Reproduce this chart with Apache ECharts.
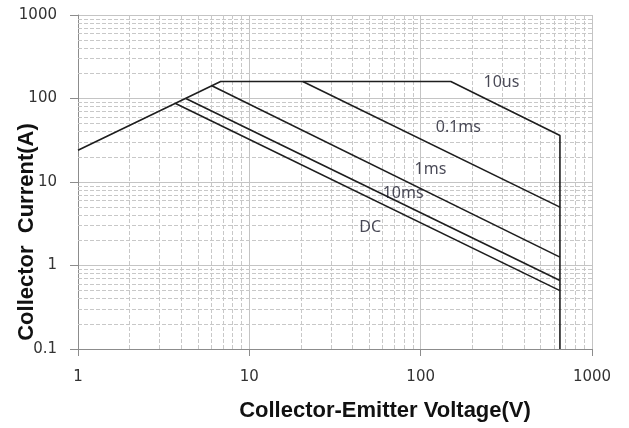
<!DOCTYPE html>
<html>
<head>
<meta charset="utf-8">
<script src="https://cdn.jsdelivr.net/npm/echarts@6/dist/echarts.min.js"></script>
<style>
  html, body { margin: 0; padding: 0; background: #fff; }
  #chart { width: 629px; height: 428px; }
</style>
</head>
<body>
<div id="chart"></div>
<script>
// safe operating area curves, [Vce, Ic]
const envelope = [[1, 24], [6.8, 160], [150, 160], [650, 36], [650, 0.1]]; // includes 10us
const line01ms = [[20.5, 160], [650, 5]];
const line1ms = [[6, 143], [650, 1.26]];
const line10ms = [[4.26, 100], [650, 0.66]];
const lineDC = [[3.71, 87], [650, 0.5]];

// curve labels
const labelNames = ["10us", "0.1ms", "1ms", "10ms", "DC"];
const labelX = [296, 166, 114, 79, 50.7];
const labelY = [156, 44.6, 14.3, 7.3, 2.86];

// minor grid positions (2..9 per decade)
const minorSteps = [2, 3, 4, 5, 6, 7, 8, 9];
const xDecades = [1, 10, 100];
const yDecades = [0.1, 1, 10, 100];

let minorLines = [];
xDecades.forEach(d => minorSteps.forEach(s => minorLines.push({ xAxis: +(d * s).toPrecision(3) })));
yDecades.forEach(d => minorSteps.forEach(s => minorLines.push({ yAxis: +(d * s).toPrecision(3) })));

const chart = echarts.init(document.getElementById("chart"));

const curveStyle = { color: "#1e1e1e", width: 1.6 };
function curve(data) {
  return {
    type: "line",
    data: data,
    showSymbol: false,
    symbol: "none",
    lineStyle: curveStyle,
    z: 5,
    animation: false
  };
}

const tickFmt = v => String(+(+v).toPrecision(3));

chart.setOption({
  animation: false,
  grid: { left: 78, right: 37, top: 15, bottom: 79, containLabel: false, outerBoundsMode: "none" },
  xAxis: {
    type: "log",
    logBase: 10,
    min: 1,
    max: 1000,
    name: "Collector-Emitter Voltage(V)",
    nameLocation: "middle",
    nameGap: 51,
    nameMoveOverlap: false,
    nameTextStyle: {
      fontFamily: "Liberation Sans",
      fontWeight: "bold",
      fontSize: 22,
      color: "#111",
      padding: [0, 0, 0, 100]
    },
    axisLine: { show: true, lineStyle: { color: "#8c8c8c", width: 1 } },
    axisTick: { show: true, length: 7, lineStyle: { color: "#8c8c8c" } },
    axisLabel: {
      margin: 21,
      fontFamily: "DejaVu Sans",
      fontSize: 15,
      color: "#333",
      formatter: tickFmt
    },
    splitLine: { show: true, lineStyle: { color: "#c4c4c4", width: 1 } }
  },
  yAxis: {
    type: "log",
    logBase: 10,
    min: 0.1,
    max: 1000,
    name: "Collector  Current(A)",
    nameLocation: "middle",
    nameRotate: 90,
    nameGap: 40,
    nameMoveOverlap: false,
    nameTextStyle: {
      fontFamily: "Liberation Sans",
      fontWeight: "bold",
      fontSize: 22,
      color: "#111",
      padding: [0, 100, 0, 0]
    },
    axisLine: { show: true, lineStyle: { color: "#8c8c8c", width: 1 } },
    axisTick: { show: true, length: 8, lineStyle: { color: "#8c8c8c" } },
    axisLabel: {
      margin: 21,
      fontFamily: "DejaVu Sans",
      fontSize: 15,
      color: "#333",
      formatter: tickFmt
    },
    splitLine: { show: true, lineStyle: { color: "#c4c4c4", width: 1 } }
  },
  series: [
    {
      type: "line",
      data: [[1, 0.1]],
      showSymbol: false,
      symbol: "none",
      lineStyle: { width: 0 },
      silent: true,
      z: 1,
      markLine: {
        silent: true,
        symbol: ["none", "none"],
        label: { show: false },
        animation: false,
        lineStyle: { color: "#c8c8c8", width: 1, type: [4, 2] },
        data: minorLines
      }
    },
    curve(envelope),
    curve(line01ms),
    curve(line1ms),
    curve(line10ms),
    curve(lineDC),
    {
      type: "scatter",
      symbolSize: 0,
      z: 6,
      data: labelNames.map((n, i) => ({ name: n, value: [labelX[i], labelY[i]] })),
      label: {
        show: true,
        position: "inside",
        formatter: "{b}",
        fontFamily: "Noto Sans",
        fontSize: 16,
        color: "#1a1a2a"
      }
    }
  ]
});
</script>
</body>
</html>
